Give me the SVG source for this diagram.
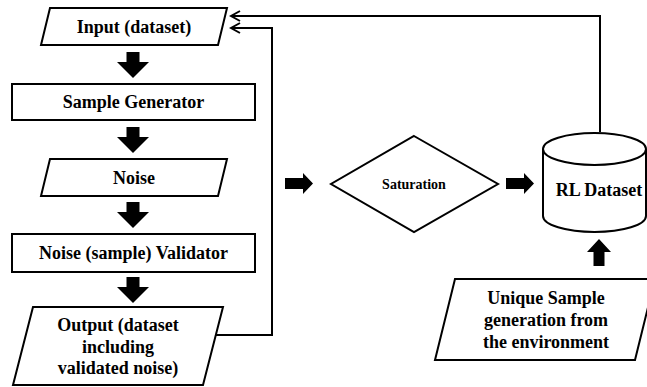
<svg xmlns="http://www.w3.org/2000/svg" width="647" height="387" viewBox="0 0 647 387">
<style>
.shape{fill:#fff;stroke:#000;stroke-width:2}
.t{font-family:"Liberation Serif","Times New Roman",serif;font-weight:bold;font-size:18px;text-anchor:middle;fill:#000}
.ts{font-size:14px}
.line{fill:none;stroke:#000;stroke-width:2}
.blk{fill:#000}
</style>
<defs>
<marker id="open" markerWidth="12" markerHeight="12" refX="10" refY="6" orient="auto" markerUnits="userSpaceOnUse">
<path d="M1,1 L10,6 L1,11" fill="none" stroke="#000" stroke-width="2"/>
</marker>
<path id="down" d="M-6.5,0 H6.5 V10 H16 L0,26 L-16,10 H-6.5 Z"/>
</defs>
<rect width="647" height="387" fill="#fff"/>
<g id="connectors">
<polyline class="line" points="600,132 600,16 231,16" marker-end="url(#open)"/>
<polyline class="line" points="216,335 272,335 272,28 231,28" marker-end="url(#open)"/>
<use href="#down" class="blk" x="133" y="52"/>
<use href="#down" class="blk" x="133" y="127"/>
<use href="#down" class="blk" x="133" y="202"/>
<use href="#down" class="blk" x="133" y="277"/>
<path class="blk" d="M285,178 H303 V173 L313,183.5 L303,194 V189 H285 Z"/>
<path class="blk" d="M506,178 H524 V173 L534,183.5 L524,194 V189 H506 Z"/>
<path class="blk" d="M593.5,266 V252 H587 L599,239 L611,252 H604.5 V266 Z"/>
</g>
<g id="input">
<polygon class="shape" points="50,8 227,8 218,45 41,45"/>
<text class="t" x="134" y="33">Input (dataset)</text>
</g>
<g id="sample-generator">
<rect class="shape" x="12" y="84" width="243" height="36"/>
<text class="t" x="133.5" y="108">Sample Generator</text>
</g>
<g id="noise">
<polygon class="shape" points="50,159 227,159 218,196 41,196"/>
<text class="t" x="134" y="184">Noise</text>
</g>
<g id="validator">
<rect class="shape" x="12" y="234" width="243" height="38"/>
<text class="t" x="133.5" y="259">Noise (sample) Validator</text>
</g>
<g id="output">
<polygon class="shape" points="33,307 223,307 203,385 13,385"/>
<text class="t" x="118" y="331">Output (dataset</text>
<text class="t" x="118" y="352.5">including</text>
<text class="t" x="118" y="374">validated noise)</text>
</g>
<g id="saturation">
<polygon class="shape" points="414,136 498,184 414,232 331,184"/>
<text class="t ts" x="414" y="189">Saturation</text>
</g>
<g id="rl-dataset">
<path class="shape" d="M543,149 V216 A51.5,16 0 0 0 646,216 V149"/>
<ellipse class="shape" cx="594.5" cy="149" rx="51.5" ry="16"/>
<text class="t" x="599" y="196">RL Dataset</text>
</g>
<g id="unique-sample">
<polygon class="shape" points="455,279 655,279 635,360 435,360"/>
<text class="t" x="546" y="304">Unique Sample</text>
<text class="t" x="546" y="326">generation from</text>
<text class="t" x="546" y="348">the environment</text>
</g>
</svg>
